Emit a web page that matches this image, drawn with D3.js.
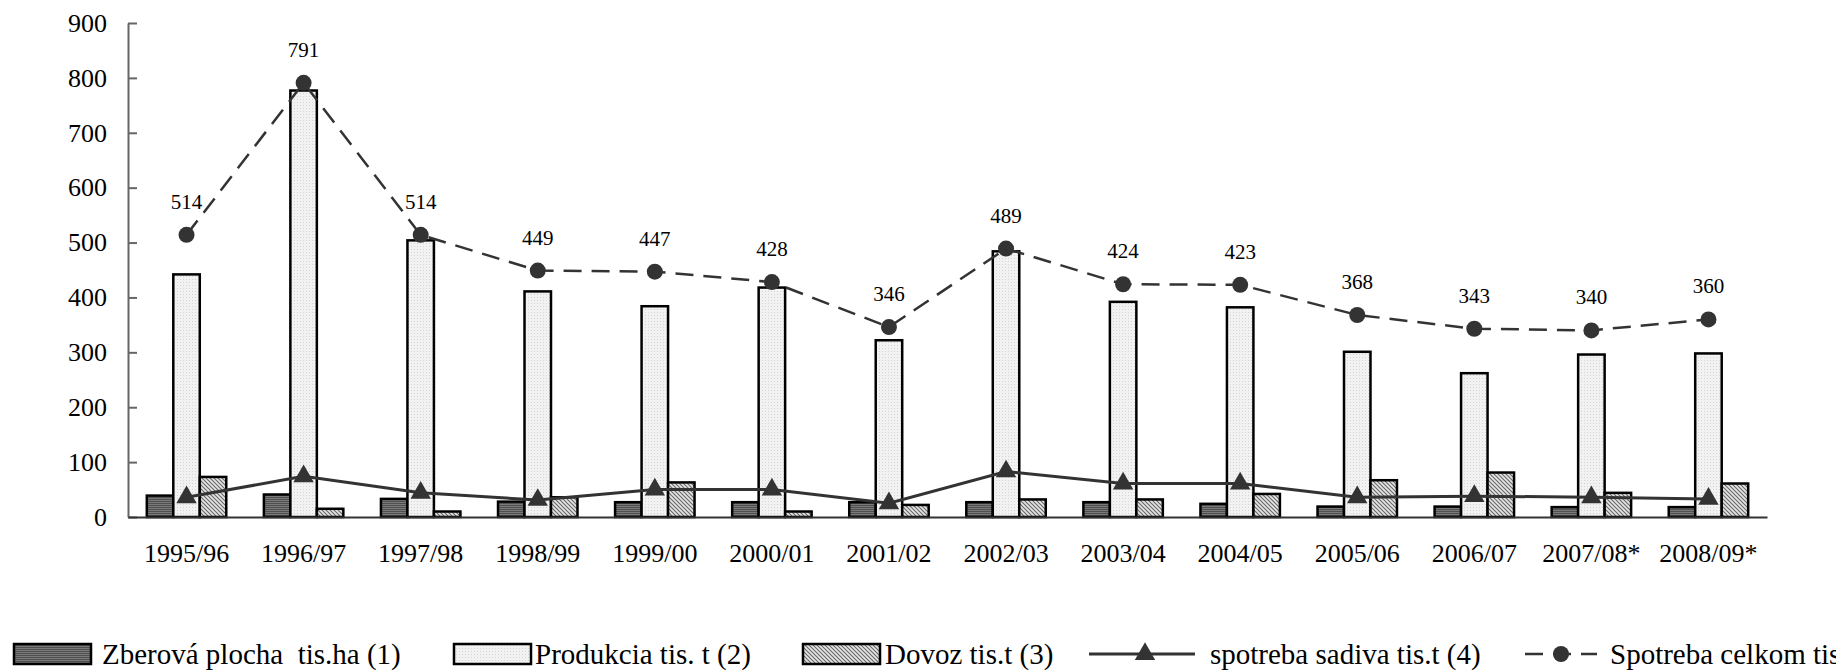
<!DOCTYPE html>
<html><head><meta charset="utf-8">
<script src="https://cdn.jsdelivr.net/npm/d3@7"></script>
<style>
html,body{margin:0;padding:0;background:#fff;}
svg{display:block;font-family:"Liberation Serif","Times New Roman",serif;}
</style></head>
<body>
<svg id="chart" width="1836" height="670"></svg>
<script>
const categories = ["1995/96","1996/97","1997/98","1998/99","1999/00","2000/01","2001/02","2002/03","2003/04","2004/05","2005/06","2006/07","2007/08*","2008/09*"];
const zberovaPlocha = [39,41,33,28,27,27,27,27,27,24,19,19,18,18];
const produkcia = [442,777,504,411,384,418,322,484,392,382,301,262,296,298];
const dovoz = [73,15,10,36,63,10,22,32,32,42,67,81,44,61];
const spotrebaSadiva = [36,74,44,31,50,50,25,83,61,61,36,38,36,33];
const spotrebaCelkom = [514,791,514,449,447,428,346,489,424,423,368,343,340,360];
const yTicks = [0,100,200,300,400,500,600,700,800,900];
const seriesNames = ["Zberová plocha  tis.ha (1)","Produkcia tis. t (2)","Dovoz tis.t (3)","spotreba sadiva tis.t (4)","Spotreba celkom tis.t (5)"];

const svg = d3.select("#chart");
const defs = svg.append("defs");

// patterns
const pDark = defs.append("pattern").attr("id","pDark").attr("patternUnits","userSpaceOnUse").attr("width",4).attr("height",2);
pDark.append("rect").attr("width",4).attr("height",2).attr("fill","#505050");
pDark.append("rect").attr("width",4).attr("height",1).attr("fill","#7a7a7a");

const pLight = defs.append("pattern").attr("id","pLight").attr("patternUnits","userSpaceOnUse").attr("width",3).attr("height",3);
pLight.append("rect").attr("width",3).attr("height",3).attr("fill","#f2f2f2");
pLight.append("rect").attr("width",1).attr("height",1).attr("fill","#d4d4d4");

const pHatch = defs.append("pattern").attr("id","pHatch").attr("patternUnits","userSpaceOnUse").attr("width",4).attr("height",4);
pHatch.append("rect").attr("width",4).attr("height",4).attr("fill","#e6e6e6");
pHatch.append("path").attr("d","M-1,-1 L5,5 M-1,3 L1,5 M3,-1 L5,1").attr("stroke","#6a6a6a").attr("stroke-width",1.2);

const fills = ["url(#pDark)","url(#pLight)","url(#pHatch)"];

const x = d3.scaleBand().domain(categories).range([128,1767]).padding(0);
const y = d3.scaleLinear().domain([0,900]).range([517,23]);
const sub = d3.scaleBand().domain([0,1,2]).range([0,x.bandwidth()]).paddingInner(0).paddingOuter(0.71);

// y axis
const yAxis = d3.axisLeft(y).tickValues(yTicks).tickSize(-9).tickPadding(21).tickSizeOuter(0);
const gy = svg.append("g").attr("transform","translate(128,0)").call(yAxis);
gy.select(".domain").attr("stroke","#666").attr("stroke-width",2);
gy.selectAll(".tick line").attr("stroke","#666").attr("stroke-width",2);
gy.selectAll(".tick text").attr("font-size",26).attr("fill","#000").attr("font-family","Liberation Serif");

// bars
const barSeries = [zberovaPlocha, produkcia, dovoz];
barSeries.forEach((vals, si) => {
  svg.append("g").selectAll("rect").data(vals).join("rect")
    .attr("x",(d,i)=>x(categories[i]) + sub(si))
    .attr("y",d=>y(d))
    .attr("width",sub.bandwidth())
    .attr("height",d=>y(0)-y(d))
    .attr("fill",fills[si])
    .attr("stroke","#000")
    .attr("stroke-width",2.5);
});

// x axis
const xAxis = d3.axisBottom(x).tickSize(0).tickPadding(27);
const gx = svg.append("g").attr("transform","translate(0,517)").call(xAxis);
gx.select(".domain").attr("stroke","#333").attr("stroke-width",2);
gx.selectAll(".tick text").attr("font-size",26).attr("fill","#000").attr("font-family","Liberation Serif");

const cx = (d,i)=>x(categories[i]) + x.bandwidth()/2;

// Spotreba sadiva line
svg.append("path").datum(spotrebaSadiva)
  .attr("d", d3.line().x(cx).y(d=>y(d)))
  .attr("fill","none").attr("stroke","#333").attr("stroke-width",3);
svg.append("g").selectAll("path").data(spotrebaSadiva).join("path")
  .attr("d", d3.symbol(d3.symbolTriangle, 180))
  .attr("transform",(d,i)=>`translate(${cx(d,i)},${y(d)})`)
  .attr("fill","#333");

// Spotreba celkom line
svg.append("path").datum(spotrebaCelkom)
  .attr("d", d3.line().x(cx).y(d=>y(d)))
  .attr("fill","none").attr("stroke","#333").attr("stroke-width",2.5).attr("stroke-dasharray","18,10");
svg.append("g").selectAll("circle").data(spotrebaCelkom).join("circle")
  .attr("cx",cx).attr("cy",d=>y(d)).attr("r",8).attr("fill","#333");
svg.append("g").selectAll("text").data(spotrebaCelkom).join("text")
  .attr("x",cx).attr("y",d=>y(d)-26)
  .attr("text-anchor","middle").attr("font-size",21).attr("fill","#000")
  .text(d=>d);

// legend
const lg = svg.append("g").attr("font-size",29);
const legendX = [14, 454, 803, 1089, 1525];
const legendTextX = [102, 535, 885, 1210, 1610];
const ly = 654;
[0,1,2].forEach(i=>{
  lg.append("rect").attr("x",legendX[i]).attr("y",ly-10).attr("width",77).attr("height",20)
    .attr("fill",fills[i]).attr("stroke","#000").attr("stroke-width",2.5);
});
lg.append("line").attr("x1",legendX[3]).attr("x2",legendX[3]+106).attr("y1",ly).attr("y2",ly)
  .attr("stroke","#333").attr("stroke-width",3);
lg.append("path").attr("d",d3.symbol(d3.symbolTriangle,180)).attr("transform",`translate(${legendX[3]+56},${ly})`).attr("fill","#333");
lg.append("line").attr("x1",legendX[4]).attr("x2",legendX[4]+72).attr("y1",ly).attr("y2",ly)
  .attr("stroke","#333").attr("stroke-width",2.5).attr("stroke-dasharray","18,10");
lg.append("circle").attr("cx",legendX[4]+36).attr("cy",ly).attr("r",8).attr("fill","#333");
seriesNames.forEach((n,i)=>{
  lg.append("text").attr("x",legendTextX[i]).attr("y",ly+10).attr("fill","#000")
    .style("white-space","pre").text(n);
});
</script>
</body></html>
